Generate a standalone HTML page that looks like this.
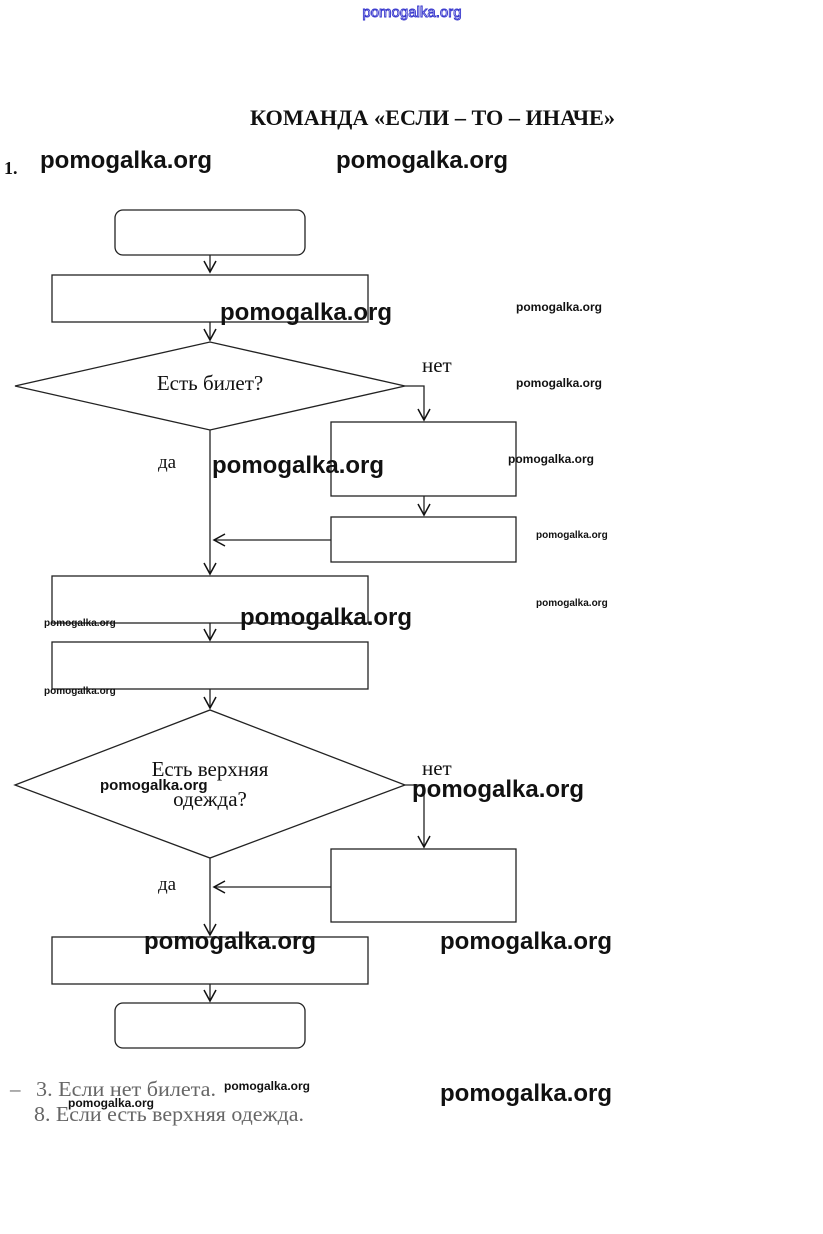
<!DOCTYPE html>
<html><head><meta charset="utf-8"><style>
html,body{margin:0;padding:0;background:#fff;}
svg{display:block;}
.wm{font-family:"Liberation Sans",sans-serif;font-weight:bold;fill:#111;}
.sr{font-family:"Liberation Serif",serif;fill:#111;}
</style></head><body>
<svg width="823" height="1234" viewBox="0 0 823 1234" xmlns="http://www.w3.org/2000/svg">
<defs><marker id="a" markerWidth="14" markerHeight="14" refX="12" refY="7" orient="auto" markerUnits="userSpaceOnUse"><path d="M1,1 L12,7 L1,13" fill="none" stroke="#111" stroke-width="1.5"/></marker></defs>
<text x="412" y="17" text-anchor="middle" font-family="Liberation Sans,sans-serif" font-size="15" fill="#fff" stroke="#33c" stroke-width="0.9">pomogalka.org</text>
<text x="250" y="125" textLength="365" lengthAdjust="spacingAndGlyphs" class="sr" font-size="22" font-weight="bold">КОМАНДА «ЕСЛИ – ТО – ИНАЧЕ»</text>
<text x="4" y="174" class="sr" font-size="18" font-weight="bold">1.</text>
<text x="40" y="168" class="wm" font-size="24">pomogalka.org</text>
<text x="336" y="168" class="wm" font-size="24">pomogalka.org</text>
<g fill="none" stroke="#222" stroke-width="1.3">
<rect x="115" y="210" width="190" height="45" rx="8"/>
<rect x="52" y="275" width="316" height="47"/>
<polygon points="15,386 210,342 405,386 210,430"/>
<rect x="331" y="422" width="185" height="74"/>
<rect x="331" y="517" width="185" height="45"/>
<rect x="52" y="576" width="316" height="47"/>
<rect x="52" y="642" width="316" height="47"/>
<polygon points="15,785 210,710 405,785 210,858"/>
<rect x="331" y="849" width="185" height="73"/>
<rect x="52" y="937" width="316" height="47"/>
<rect x="115" y="1003" width="190" height="45" rx="8"/>
<line x1="210" y1="255" x2="210" y2="272" marker-end="url(#a)"/>
<line x1="210" y1="322" x2="210" y2="340" marker-end="url(#a)"/>
<polyline points="405,386 424,386 424,420" marker-end="url(#a)"/>
<line x1="424" y1="496" x2="424" y2="515" marker-end="url(#a)"/>
<line x1="331" y1="540" x2="214" y2="540" marker-end="url(#a)"/>
<line x1="210" y1="430" x2="210" y2="574" marker-end="url(#a)"/>
<line x1="210" y1="623" x2="210" y2="640" marker-end="url(#a)"/>
<line x1="210" y1="689" x2="210" y2="708" marker-end="url(#a)"/>
<polyline points="405,785 424,785 424,847" marker-end="url(#a)"/>
<line x1="331" y1="887" x2="214" y2="887" marker-end="url(#a)"/>
<line x1="210" y1="858" x2="210" y2="935" marker-end="url(#a)"/>
<line x1="210" y1="984" x2="210" y2="1001" marker-end="url(#a)"/>
</g>
<text x="210" y="390" text-anchor="middle" class="sr" font-size="21">Есть билет?</text>
<text x="422" y="372" class="sr" font-size="21">нет</text>
<text x="158" y="468" class="sr" font-size="19">да</text>
<text x="210" y="776" text-anchor="middle" class="sr" font-size="21">Есть верхняя</text>
<text x="210" y="806" text-anchor="middle" class="sr" font-size="21">одежда?</text>
<text x="422" y="775" class="sr" font-size="21">нет</text>
<text x="158" y="890" class="sr" font-size="19">да</text>
<text x="10" y="1096" font-family="Liberation Serif,serif" font-size="21" fill="#666">–</text>
<text x="36" y="1096" textLength="180" lengthAdjust="spacingAndGlyphs" font-family="Liberation Serif,serif" font-size="21" fill="#666">3. Если нет билета.</text>
<text x="34" y="1121" textLength="270" lengthAdjust="spacingAndGlyphs" font-family="Liberation Serif,serif" font-size="21" fill="#666">8. Если есть верхняя одежда.</text>
<text x="220" y="320" class="wm" font-size="24">pomogalka.org</text>
<text x="212" y="473" class="wm" font-size="24">pomogalka.org</text>
<text x="240" y="625" class="wm" font-size="24">pomogalka.org</text>
<text x="412" y="797" class="wm" font-size="24">pomogalka.org</text>
<text x="144" y="949" class="wm" font-size="24">pomogalka.org</text>
<text x="440" y="949" class="wm" font-size="24">pomogalka.org</text>
<text x="440" y="1101" class="wm" font-size="24">pomogalka.org</text>
<text x="516" y="311" class="wm" font-size="12">pomogalka.org</text>
<text x="516" y="387" class="wm" font-size="12">pomogalka.org</text>
<text x="508" y="463" class="wm" font-size="12">pomogalka.org</text>
<text x="536" y="538" class="wm" font-size="10">pomogalka.org</text>
<text x="536" y="606" class="wm" font-size="10">pomogalka.org</text>
<text x="44" y="626" class="wm" font-size="10">pomogalka.org</text>
<text x="44" y="694" class="wm" font-size="10">pomogalka.org</text>
<text x="100" y="790" class="wm" font-size="15">pomogalka.org</text>
<text x="224" y="1090" class="wm" font-size="12">pomogalka.org</text>
<text x="68" y="1107" class="wm" font-size="12">pomogalka.org</text>
</svg>
</body></html>
